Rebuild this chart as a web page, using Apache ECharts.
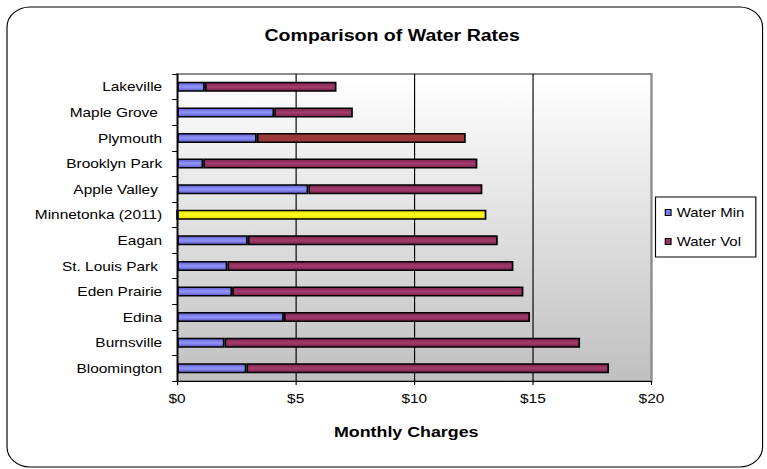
<!DOCTYPE html>
<html>
<head>
<meta charset="utf-8">
<title>Comparison of Water Rates</title>
<script src="https://cdn.jsdelivr.net/npm/echarts@6/dist/echarts.min.js"></script>
<style>
  html, body { margin: 0; padding: 0; background: #ffffff; overflow: hidden; }
  /* The chart is laid out on a narrower canvas and widened to the page,
     giving the slightly extended lettering of the original worksheet chart. */
  #chart { width: 667px; height: 469px; transform: scaleX(1.15); transform-origin: 0 0; }
</style>
</head>
<body>
<div id="chart"></div>
<script>
// Cities, listed top to bottom
const cities = ['Lakeville', 'Maple Grove ', 'Plymouth', 'Brooklyn Park', 'Apple Valley ',
  'Minnetonka (2011)', 'Eagan', 'St. Louis Park ', 'Eden Prairie', 'Edina', 'Burnsville', 'Bloomington'];

// Monthly minimum charge ($)
const waterMin = [1.17, 4.09, 3.36, 1.10, 5.53, 0, 2.98, 2.12, 2.32, 4.50, 2.00, 2.92];

// Monthly volume charge ($)
const waterVol = [5.55, 3.32, 8.81, 11.56, 7.34, 13.04, 10.54, 12.06, 12.28, 10.38, 14.99, 15.29];

// Axis ticks
const chargeTicks = [0, 5, 10, 15, 20];
const chargeTickLabels = ['$0', '$5', '$10', '$15', '$20'];

const FONT = "'Liberation Sans', Arial, Helvetica, sans-serif";

function band(edge, mid) {
  return new echarts.graphic.LinearGradient(0, 0, 0, 1, [
    { offset: 0, color: edge },
    { offset: 0.5, color: mid },
    { offset: 1, color: edge }
  ]);
}

const minStyle = { color: band('#5c5cc8', '#9494ff'), borderColor: '#000', borderWidth: 1.5 };
const volStyle = { color: band('#7a2250', '#a43c6c'), borderColor: '#000', borderWidth: 1.5 };
const homeStyle = { color: band('#e6d800', '#ffff22'), borderColor: '#000', borderWidth: 1.5 };
const altStyle = { color: '#9b3838', borderColor: '#000', borderWidth: 1.5 };

const volData = waterVol.map((v, i) => {
  if (cities[i].startsWith('Minnetonka')) return { value: v, itemStyle: homeStyle };
  if (cities[i] === 'Plymouth') return { value: v, itemStyle: altStyle };
  return v;
});

const chart = echarts.init(document.getElementById('chart'), null, { renderer: 'svg' });

chart.setOption({
  animation: false,
  backgroundColor: '#ffffff',
  textStyle: { fontFamily: FONT },
  graphic: [{
    type: 'rect',
    shape: { x: 6.1, y: 7, width: 657, height: 460, r: 20 },
    style: { fill: 'none', stroke: '#000', lineWidth: 1 },
    silent: true,
    z: -1
  }],
  title: {
    text: 'Comparison of Water Rates',
    left: 230,
    top: 26,
    padding: 0,
    textStyle: { fontFamily: FONT, fontSize: 17, fontWeight: 'bold', color: '#000' }
  },
  legend: {
    orient: 'vertical',
    left: 570,
    top: 197,
    padding: [9, 10, 9, 8],
    backgroundColor: '#ffffff',
    borderColor: '#000',
    borderWidth: 1,
    itemWidth: 5,
    itemHeight: 6,
    itemGap: 16,
    textStyle: { fontFamily: FONT, fontSize: 13, color: '#000' },
    data: [
      { name: 'Water Min', icon: 'rect', itemStyle: { color: '#7b7bf0', borderColor: '#000', borderWidth: 1 } },
      { name: 'Water Vol', icon: 'rect', itemStyle: { color: '#993366', borderColor: '#000', borderWidth: 1 } }
    ]
  },
  grid: {
    left: 154,
    right: 100.5,
    top: 74,
    bottom: 88,
    show: true,
    backgroundColor: new echarts.graphic.LinearGradient(0, 0, 0, 1, [
      { offset: 0, color: '#ffffff' },
      { offset: 1, color: '#c0c0c0' }
    ]),
    borderColor: '#8a8a8a',
    borderWidth: 2
  },
  xAxis: {
    type: 'value',
    min: chargeTicks[0],
    max: chargeTicks[chargeTicks.length - 1],
    interval: chargeTicks[1] - chargeTicks[0],
    name: 'Monthly Charges',
    nameLocation: 'middle',
    nameGap: 43,
    nameTextStyle: { fontFamily: FONT, fontSize: 15.5, fontWeight: 'bold', color: '#000', padding: [0, 14, 0, 0] },
    axisLine: { show: true, lineStyle: { color: '#000', width: 1 } },
    axisTick: { show: true, length: 4, lineStyle: { color: '#000' } },
    axisLabel: {
      margin: 11,
      fontFamily: FONT,
      fontSize: 13.4,
      color: '#000',
      formatter: v => chargeTickLabels[chargeTicks.indexOf(v)]
    },
    splitLine: { show: true, showMaxLine: false, lineStyle: { color: '#000', width: 1 } }
  },
  yAxis: {
    type: 'category',
    inverse: true,
    data: cities,
    axisLine: { show: true, lineStyle: { color: '#000', width: 1 } },
    axisTick: { show: true, length: 4.3, lineStyle: { color: '#000' } },
    axisLabel: { margin: 13, fontFamily: FONT, fontSize: 13.4, color: '#000' },
    splitLine: { show: false }
  },
  series: [
    {
      name: 'Water Min',
      type: 'bar',
      stack: 'charges',
      barWidth: 10,
      itemStyle: minStyle,
      data: waterMin
    },
    {
      name: 'Water Vol',
      type: 'bar',
      stack: 'charges',
      barWidth: 10,
      itemStyle: volStyle,
      data: volData
    }
  ]
});
</script>
</body>
</html>
